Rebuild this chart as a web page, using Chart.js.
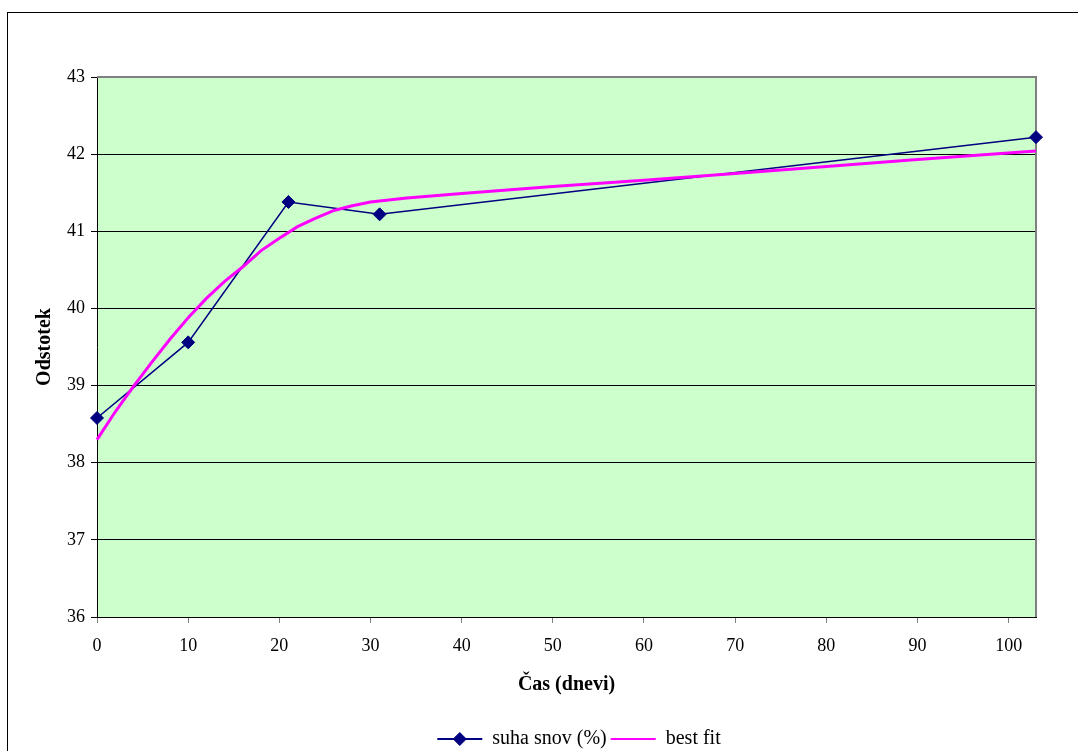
<!DOCTYPE html>
<html>
<head>
<meta charset="utf-8">
<script src="https://cdn.jsdelivr.net/npm/chart.js@4/dist/chart.umd.min.js"></script>
<style>
  body { margin: 0; background: #fff; }
  canvas { display: block; }
</style>
</head>
<body>
<canvas id="fitChart" width="1078" height="751"></canvas>
<script>
// measured points (days, %)
const dayValues = [0, 10, 21, 31, 103];
const dryValues = [38.58, 39.56, 41.38, 41.22, 42.22];

// best fit curve
const fitDays = [0, 2, 4, 6, 8, 10, 12, 14, 16, 18, 20, 22, 24, 26, 28, 30, 34, 40, 50, 60, 70, 80, 90, 103];
const fitValues = [38.30, 38.66, 38.99, 39.30, 39.60, 39.88, 40.13, 40.35, 40.54, 40.75, 40.91, 41.06, 41.17, 41.27,
  41.33, 41.38, 41.43, 41.49, 41.58, 41.66, 41.75, 41.84, 41.93, 42.04];

const xTicks = [0, 10, 20, 30, 40, 50, 60, 70, 80, 90, 100];
const yTicks = [36, 37, 38, 39, 40, 41, 42, 43];

const serif = "'Liberation Serif', 'Times New Roman', serif";

// background, frame and plot border
const framePlugin = {
  id: "frame",
  beforeDraw(chart) {
    const c = chart.ctx;
    const a = chart.chartArea;
    c.save();
    c.fillStyle = "#fff";
    c.fillRect(0, 0, chart.width, chart.height);
    c.strokeStyle = "#000";
    c.lineWidth = 1;
    c.strokeRect(7.5, 12.5, chart.width + 20, chart.height + 20);
    c.fillStyle = "#CCFFCC";
    c.fillRect(a.left, a.top, a.right - a.left, a.bottom - a.top);
    c.restore();
  },
  beforeDatasetsDraw(chart) {
    const c = chart.ctx;
    const a = chart.chartArea;
    c.save();
    c.strokeStyle = "#808080";
    c.lineWidth = 2;
    c.beginPath();
    c.moveTo(a.left, a.top);
    c.lineTo(a.right, a.top);
    c.lineTo(a.right, a.bottom);
    c.stroke();
    c.restore();
  },
  afterLayout(chart) {
    chart.legend.left += 61;
    chart.legend.right += 61;
  },
  afterDraw(chart) {
    const box = chart.legend.legendHitBoxes[0];
    if (!box) return;
    const c = chart.ctx;
    c.save();
    c.fillStyle = "#000080";
    c.strokeStyle = "#000080";
    Chart.helpers.drawPoint(c, { pointStyle: "rectRot", radius: 6.5, borderWidth: 1, rotation: 0 },
      box.left + 22.5, box.top + box.height / 2);
    c.restore();
  }
};

const ctx = document.getElementById("fitChart").getContext("2d");
const chart = new Chart(ctx, {
  type: "line",
  data: {
    datasets: [
      {
        label: "suha snov (%)",
        data: dayValues.map((d, i) => ({ x: d, y: dryValues[i] })),
        borderColor: "#000080",
        backgroundColor: "#000080",
        borderWidth: 1.5,
        pointStyle: "rectRot",
        pointRadius: 6.5,
        pointBorderWidth: 1,
        tension: 0,
        clip: false,
        order: 1
      },
      {
        label: "best fit",
        data: fitDays.map((d, i) => ({ x: d, y: fitValues[i] })),
        borderColor: "#FF00FF",
        backgroundColor: "#FF00FF",
        borderWidth: 3,
        pointRadius: 0,
        tension: 0,
        clip: false,
        order: 0
      }
    ]
  },
  options: {
    responsive: false,
    animation: false,
    layout: { padding: { left: 0, top: 77, right: 42, bottom: -8 } },
    plugins: {
      tooltip: { enabled: false },
      legend: {
        position: "bottom",
        labels: {
          boxWidth: 45,
          boxHeight: 2,
          padding: 4,
          color: "#000",
          font: { family: serif, size: 20 },
          generateLabels: (ch) => ch.data.datasets.map((ds, i) => ({
            text: ds.label,
            fillStyle: ds.borderColor,
            strokeStyle: ds.borderColor,
            lineWidth: 0,
            hidden: false,
            datasetIndex: i,
            fontColor: "#000"
          }))
        }
      }
    },
    scales: {
      x: {
        type: "linear",
        min: 0,
        max: 103,
        afterBuildTicks: (s) => { s.ticks = xTicks.map(v => ({ value: v })); },
        afterFit: (s) => { s.height = 108; },
        ticks: { color: "#000", padding: 12, font: { family: serif, size: 18 } },
        grid: { display: true, drawOnChartArea: false, drawTicks: true, tickLength: 6, tickColor: "#808080" },
        border: { display: true, color: "#000", width: 1 },
        title: {
          display: true,
          text: "Čas (dnevi)",
          color: "#000",
          font: { family: serif, size: 20, weight: "bold" },
          padding: { top: 0, bottom: 28 }
        }
      },
      y: {
        min: 36,
        max: 43,
        afterBuildTicks: (s) => { s.ticks = yTicks.map(v => ({ value: v })); },
        afterFit: (s) => { s.width = 97; },
        ticks: { color: "#000", padding: 6, font: { family: serif, size: 18 } },
        grid: {
          color: (c) => (c.tick && c.tick.value === 43 ? "#808080" : "#000"),
          lineWidth: 1,
          tickLength: 6,
          tickColor: "#000"
        },
        border: { display: true, color: "#000", width: 1 },
        title: {
          display: true,
          text: "Odstotek",
          color: "#000",
          font: { family: serif, size: 20, weight: "bold" },
          padding: { top: 33, bottom: 0 }
        }
      }
    }
  },
  plugins: [framePlugin]
});
</script>
</body>
</html>
